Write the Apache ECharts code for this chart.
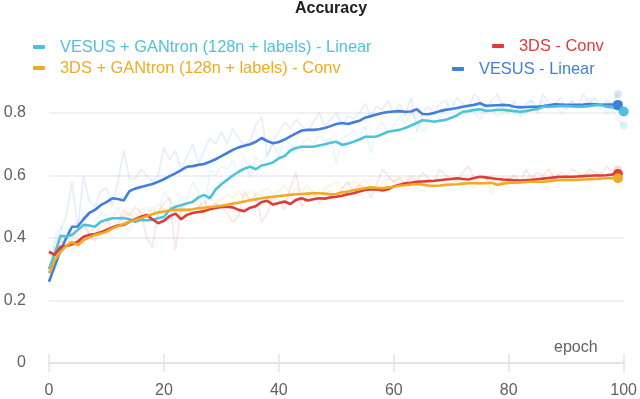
<!DOCTYPE html>
<html><head><meta charset="utf-8">
<script src="https://cdn.jsdelivr.net/npm/echarts@6/dist/echarts.min.js"></script>
<style>html,body{margin:0;padding:0;background:#fff}#c{width:640px;height:399px}</style>
</head><body><div id="c"></div>
<script>
const title = 'Accuracy';
const xName = 'epoch';
const xTicks = [0, 20, 40, 60, 80, 100];
const yTicks = [0, 0.2, 0.4, 0.6, 0.8];

const names = [
  'VESUS + GANtron (128n + labels) - Linear',
  '3DS + GANtron (128n + labels) - Conv',
  '3DS - Conv',
  'VESUS - Linear'
];
const colors = ['#4ec3d8', '#f2aa22', '#de3b3b', '#437ddf'];

// smoothed values, index = epoch
const cyanSmooth = [0.30,0.35,0.407,0.405,0.41,0.426,0.442,0.44,0.436,0.452,
0.458,0.463,0.463,0.464,0.46,0.452,0.458,0.457,0.458,0.463,
0.468,0.49,0.50,0.505,0.511,0.515,0.53,0.538,0.527,0.555,
0.572,0.586,0.60,0.612,0.622,0.628,0.62,0.632,0.636,0.642,
0.655,0.662,0.68,0.688,0.692,0.692,0.692,0.696,0.70,0.705,
0.708,0.698,0.702,0.708,0.715,0.724,0.724,0.725,0.732,0.74,
0.743,0.746,0.752,0.76,0.768,0.777,0.775,0.772,0.775,0.778,
0.785,0.792,0.804,0.806,0.81,0.812,0.807,0.808,0.81,0.81,
0.808,0.806,0.804,0.806,0.81,0.813,0.82,0.82,0.821,0.822,
0.822,0.821,0.82,0.82,0.822,0.825,0.826,0.82,0.818,0.812,0.805];
const orangeSmooth = [0.287,0.33,0.355,0.375,0.388,0.377,0.393,0.402,0.41,0.414,
0.42,0.43,0.438,0.445,0.452,0.458,0.463,0.47,0.476,0.482,
0.485,0.488,0.49,0.49,0.49,0.492,0.495,0.497,0.499,0.501,
0.503,0.506,0.51,0.513,0.517,0.521,0.524,0.527,0.53,0.532,
0.534,0.536,0.538,0.54,0.541,0.542,0.543,0.543,0.542,0.539,
0.541,0.546,0.549,0.553,0.556,0.559,0.562,0.561,0.559,0.562,
0.564,0.567,0.569,0.571,0.573,0.571,0.568,0.567,0.568,0.57,
0.571,0.572,0.574,0.575,0.575,0.575,0.575,0.577,0.57,0.574,
0.576,0.577,0.578,0.579,0.58,0.58,0.58,0.582,0.584,0.586,
0.586,0.586,0.586,0.587,0.588,0.589,0.59,0.591,0.591,0.591];
const redSmooth = [0.356,0.346,0.372,0.374,0.38,0.388,0.404,0.41,0.413,0.418,
0.426,0.434,0.44,0.442,0.452,0.46,0.468,0.474,0.46,0.447,
0.455,0.47,0.478,0.46,0.474,0.48,0.483,0.486,0.492,0.496,
0.499,0.50,0.498,0.49,0.486,0.497,0.502,0.515,0.519,0.507,
0.512,0.517,0.509,0.522,0.527,0.52,0.524,0.527,0.526,0.53,
0.532,0.535,0.54,0.543,0.549,0.554,0.555,0.556,0.552,0.556,
0.565,0.57,0.575,0.577,0.58,0.581,0.582,0.583,0.585,0.587,
0.589,0.591,0.589,0.587,0.592,0.596,0.594,0.591,0.589,0.587,
0.586,0.585,0.584,0.585,0.586,0.588,0.59,0.592,0.594,0.596,
0.596,0.596,0.597,0.598,0.599,0.60,0.60,0.601,0.603,0.605];
const blueSmooth = [0.26,0.31,0.36,0.40,0.436,0.437,0.46,0.48,0.49,0.505,
0.515,0.527,0.525,0.52,0.55,0.558,0.563,0.568,0.573,0.58,
0.588,0.598,0.607,0.617,0.628,0.63,0.634,0.637,0.644,0.652,
0.662,0.672,0.682,0.69,0.695,0.70,0.708,0.72,0.71,0.703,
0.707,0.715,0.725,0.735,0.744,0.746,0.746,0.748,0.752,0.758,
0.765,0.768,0.765,0.77,0.775,0.785,0.79,0.795,0.80,0.803,
0.805,0.806,0.804,0.805,0.812,0.797,0.796,0.80,0.806,0.81,
0.813,0.816,0.82,0.823,0.826,0.831,0.823,0.824,0.825,0.826,
0.825,0.82,0.818,0.819,0.82,0.82,0.822,0.825,0.828,0.827,
0.826,0.826,0.826,0.827,0.829,0.828,0.826,0.827,0.827,0.826];

// raw (unsmoothed) values, index = epoch
const cyanRaw = [0.30,0.40,0.44,0.39,0.43,0.45,0.47,0.41,0.45,0.48,
0.47,0.46,0.50,0.44,0.42,0.48,0.46,0.45,0.50,0.47,
0.55,0.52,0.50,0.53,0.52,0.58,0.55,0.46,0.62,0.60,
0.63,0.62,0.65,0.60,0.66,0.59,0.66,0.64,0.67,0.70,
0.66,0.72,0.70,0.68,0.70,0.72,0.70,0.73,0.71,0.72,
0.64,0.72,0.73,0.74,0.72,0.76,0.67,0.75,0.77,0.74,
0.76,0.79,0.77,0.80,0.78,0.74,0.77,0.80,0.78,0.82,
0.84,0.82,0.79,0.83,0.80,0.78,0.82,0.81,0.79,0.80,
0.82,0.80,0.83,0.81,0.84,0.82,0.84,0.81,0.83,0.80,
0.82,0.84,0.81,0.83,0.85,0.82,0.84,0.80,0.81,0.78,0.76];
const orangeRaw = [0.29,0.37,0.38,0.42,0.36,0.40,0.44,0.42,0.43,0.41,
0.45,0.46,0.44,0.47,0.48,0.46,0.49,0.50,0.48,0.51,
0.49,0.50,0.48,0.50,0.51,0.52,0.50,0.51,0.53,0.51,
0.52,0.54,0.53,0.55,0.53,0.55,0.54,0.55,0.56,0.54,
0.55,0.57,0.54,0.56,0.55,0.57,0.54,0.53,0.56,0.57,
0.58,0.56,0.57,0.58,0.57,0.59,0.56,0.55,0.58,0.59,
0.58,0.60,0.57,0.59,0.56,0.55,0.57,0.58,0.59,0.57,
0.58,0.59,0.57,0.58,0.56,0.59,0.60,0.54,0.58,0.59,
0.58,0.60,0.58,0.59,0.60,0.58,0.60,0.59,0.61,0.59,
0.60,0.58,0.60,0.61,0.59,0.60,0.61,0.59,0.60,0.60];
const redRaw = [0.36,0.34,0.39,0.38,0.40,0.42,0.44,0.41,0.39,0.45,
0.46,0.43,0.44,0.49,0.47,0.50,0.48,0.40,0.37,0.48,
0.51,0.53,0.36,0.50,0.49,0.48,0.50,0.52,0.49,0.51,
0.50,0.48,0.45,0.47,0.55,0.52,0.54,0.45,0.48,0.53,
0.52,0.49,0.56,0.61,0.50,0.53,0.55,0.51,0.54,0.55,
0.53,0.56,0.58,0.55,0.57,0.56,0.53,0.57,0.62,0.60,
0.58,0.59,0.57,0.60,0.58,0.61,0.59,0.58,0.62,0.60,
0.59,0.58,0.61,0.63,0.59,0.57,0.58,0.60,0.57,0.58,
0.59,0.60,0.58,0.62,0.59,0.61,0.60,0.62,0.59,0.61,
0.60,0.62,0.61,0.59,0.62,0.61,0.60,0.63,0.61,0.62];
const blueRaw = [0.26,0.38,0.42,0.47,0.58,0.43,0.60,0.52,0.50,0.55,
0.56,0.50,0.58,0.68,0.59,0.59,0.62,0.60,0.58,0.60,
0.69,0.65,0.68,0.62,0.66,0.70,0.64,0.68,0.72,0.70,
0.74,0.70,0.75,0.72,0.70,0.71,0.76,0.79,0.66,0.71,
0.74,0.77,0.75,0.78,0.76,0.74,0.77,0.80,0.76,0.78,
0.80,0.76,0.79,0.78,0.80,0.83,0.79,0.82,0.81,0.84,
0.80,0.83,0.79,0.85,0.74,0.80,0.82,0.80,0.83,0.84,
0.81,0.85,0.83,0.82,0.86,0.84,0.80,0.84,0.86,0.82,
0.80,0.84,0.79,0.83,0.84,0.80,0.86,0.83,0.82,0.85,
0.81,0.84,0.82,0.86,0.83,0.85,0.81,0.84,0.83,0.86];

const smooth = [cyanSmooth, orangeSmooth, redSmooth, blueSmooth];
const raw = [cyanRaw, orangeRaw, redRaw, blueRaw];

function pts(arr, dotSize, dotOpacity) {
  return arr.map((v, i) => {
    if (i === arr.length - 1) {
      return { value: [i, v], symbolSize: dotSize, itemStyle: { opacity: dotOpacity } };
    }
    return [i, v];
  });
}

const series = [];
raw.forEach((arr, k) => {
  series.push({
    name: names[k] + ' (raw)', type: 'line', data: pts(arr, 8, 0.2),
    symbol: 'circle', symbolSize: 0, showSymbol: true, clip: false, z: 1,
    lineStyle: { color: colors[k], width: 1.8, opacity: 0.12 },
    itemStyle: { color: colors[k] }, emphasis: { disabled: true }, silent: true
  });
});
[3, 0, 2, 1].forEach(k => {
  series.push({
    name: names[k], type: 'line', data: pts(smooth[k], 10, 1),
    symbol: 'circle', symbolSize: 0, showSymbol: true, clip: false, z: 3,
    lineStyle: { color: colors[k], width: 2.6 },
    itemStyle: { color: colors[k] }, emphasis: { disabled: true }, silent: true
  });
});

const font = '"Liberation Sans", Arial, sans-serif';
function leg(i, left, top) {
  return {
    data: [{ name: names[i], textStyle: { color: colors[i] } }],
    left: left, top: top, icon: 'roundRect', itemWidth: 12, itemHeight: 4,
    selectedMode: false,
    textStyle: { fontFamily: font, fontSize: 16.4, padding: [0, 0, 0, 10] }
  };
}

const chart = echarts.init(document.getElementById('c'), null, { renderer: 'canvas' });
chart.setOption({
  animation: false,
  backgroundColor: '#ffffff',
  title: {
    text: title, left: 326, top: -4, textAlign: 'center',
    textStyle: { fontFamily: font, fontSize: 16, fontWeight: 'bold', color: '#212121' }
  },
  legend: [leg(0, 28, 34), leg(1, 28, 55), leg(2, 487, 33), leg(3, 447, 56)],
  grid: { left: 49, right: 14, top: 113, bottom: 36 },
  xAxis: [{
    type: 'value', min: 0, max: 100, interval: 20,
    name: xName, nameLocation: 'end', nameGap: -26,
    nameTextStyle: { fontFamily: font, fontSize: 16, color: '#616161', align: 'right', verticalAlign: 'bottom', padding: [0, 0, 7, 0] },
    axisLine: { show: true, lineStyle: { color: '#e3e3e3', width: 2 } },
    axisTick: { show: true, length: 9, lineStyle: { color: '#e3e3e3', width: 1.5 } },
    axisLabel: { margin: 20, fontFamily: font, fontSize: 16, color: '#616161',
      customValues: xTicks },
    splitLine: { show: false }
  }, {
    type: 'value', min: 0, max: 100, interval: 20, position: 'bottom',
    axisLine: { show: false },
    axisTick: { show: true, inside: true, length: 9, lineStyle: { color: '#e3e3e3', width: 1.5 } },
    axisLabel: { show: false }, splitLine: { show: false }
  }],
  yAxis: {
    type: 'value', min: 0, max: 0.8, interval: 0.2,
    axisLine: { show: false }, axisTick: { show: false },
    axisLabel: { margin: 23, fontFamily: font, fontSize: 16, color: '#616161',
      formatter: v => String(Math.round(v * 10) / 10) },
    splitLine: { show: true, lineStyle: { color: '#ececec', width: 1.5 } }
  },
  series: series
});
</script>
</body></html>
